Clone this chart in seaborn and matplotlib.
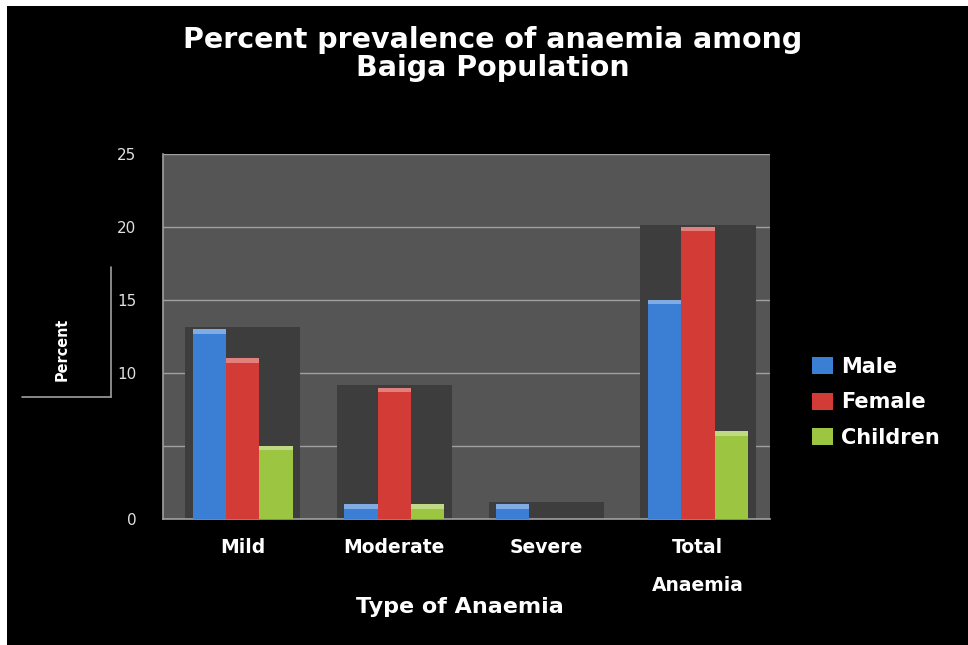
import matplotlib
matplotlib.use("Agg")
import matplotlib.pyplot as plt
import pandas as pd
import seaborn as sns
from matplotlib.colors import to_rgb
from matplotlib.patches import Rectangle, Patch
from matplotlib.lines import Line2D

categories = ["Mild", "Moderate", "Severe", "Total\n\nAnaemia"]
groups = ["Male", "Female", "Children"]
male = [13, 1, 1, 15]
female = [11, 9, 0, 20]
children = [5, 1, 0, 6]
y_ticks = [0, 5, 10, 15, 20, 25]
y_tick_labels = ["0", "", "10", "15", "20", "25"]

colors = ["#3b7fd4", "#d33b36", "#9cc541"]

df = pd.DataFrame({
    "category": categories * 3,
    "group": [g for g in groups for _ in categories],
    "value": male + female + children,
})

sns.set_theme(style="dark")
plt.rcParams["font.family"] = ["DejaVu Sans"]

fig = plt.figure(figsize=(9.68, 6.45), dpi=100, facecolor="white")
# black slide background, white strip on the left and top
fig.patches.append(Rectangle((7 / 968, 0), 961 / 968, 639 / 645,
                             transform=fig.transFigure, facecolor="black",
                             edgecolor="none", zorder=-10))

ax = fig.add_axes([163 / 968, 1 - 519 / 645, 607 / 968, 365 / 645])
ax.set_facecolor("#555555")

# depth shadow behind each group
group_max = df.groupby("category", sort=False)["value"].max()
ax.bar(range(len(categories)), group_max.values + 0.15, width=0.76,
       color="#3d3d3d", edgecolor="none", linewidth=0, zorder=1)
n_shadow = len(ax.patches)

sns.barplot(data=df, x="category", y="value", hue="group", hue_order=groups,
            palette=colors, width=0.66, saturation=1, ax=ax, zorder=3,
            legend=False, edgecolor="none", linewidth=0)

# light bevel on top of each bar
for p in list(ax.patches)[n_shadow:]:
    h = p.get_height()
    if h <= 0:
        continue
    r, g, b = to_rgb(p.get_facecolor())
    light = (r + (1 - r) * 0.35, g + (1 - g) * 0.35, b + (1 - b) * 0.35)
    ax.add_patch(Rectangle((p.get_x(), h - 0.3), p.get_width(), 0.3,
                           facecolor=light, edgecolor="none", zorder=4))

ax.set_ylim(0, 25)
ax.set_xlim(-0.525, 3.475)
ax.set_yticks(y_ticks)
ax.set_yticklabels(y_tick_labels, color="#e0e0e0", fontsize=11)
ax.yaxis.grid(True, color="#a0a0a0", linewidth=1, zorder=2)
ax.xaxis.grid(False)
ax.set_axisbelow(True)
ax.tick_params(axis="y", length=5, color="#a0a0a0", pad=14)
ax.tick_params(axis="x", length=0, pad=14)
for lbl in ax.get_xticklabels():
    lbl.set_color("white")
    lbl.set_fontweight("bold")
    lbl.set_fontsize(13.5)
    lbl.set_verticalalignment("top")
    lbl.set_linespacing(1.0)
for side in ["top", "right"]:
    ax.spines[side].set_visible(False)
for side in ["left", "bottom"]:
    ax.spines[side].set_visible(True)
    ax.spines[side].set_color("#a0a0a0")
    ax.spines[side].set_linewidth(1.2)

ax.set_xlabel("Type of Anaemia", color="white", fontsize=16,
              fontweight="bold")
ax.xaxis.set_label_coords((460 - 163) / 607, (519 - 597) / 365)
ax.set_ylabel("")

fig.text(493 / 968, 1 - 54 / 645,
         "Percent prevalence of anaemia among\nBaiga Population",
         ha="center", va="center", color="white", fontsize=20.5,
         fontweight="bold", linespacing=1.0)

fig.text(62 / 968, 1 - 349 / 645, "Percent", rotation=90, ha="center",
         va="center", color="white", fontsize=11.5, fontweight="bold",
         fontstretch="condensed")
fig.add_artist(Line2D([111 / 968, 111 / 968], [1 - 267 / 645, 1 - 397 / 645],
                      transform=fig.transFigure, color="#a0a0a0", linewidth=1.2))
fig.add_artist(Line2D([22 / 968, 111 / 968], [1 - 397 / 645, 1 - 397 / 645],
                      transform=fig.transFigure, color="#a0a0a0", linewidth=1.2))

handles = [Patch(facecolor=c, edgecolor="none") for c in colors]
leg = fig.legend(handles, groups, loc="upper left",
                 bbox_to_anchor=(793 / 968, 1 - 338 / 645), frameon=False,
                 handlelength=1.0, handleheight=0.9, labelspacing=0.75,
                 handletextpad=0.4, prop={"weight": "bold", "size": 15})
for t in leg.get_texts():
    t.set_color("white")

fig.savefig("out.png", dpi=100, facecolor="white")
